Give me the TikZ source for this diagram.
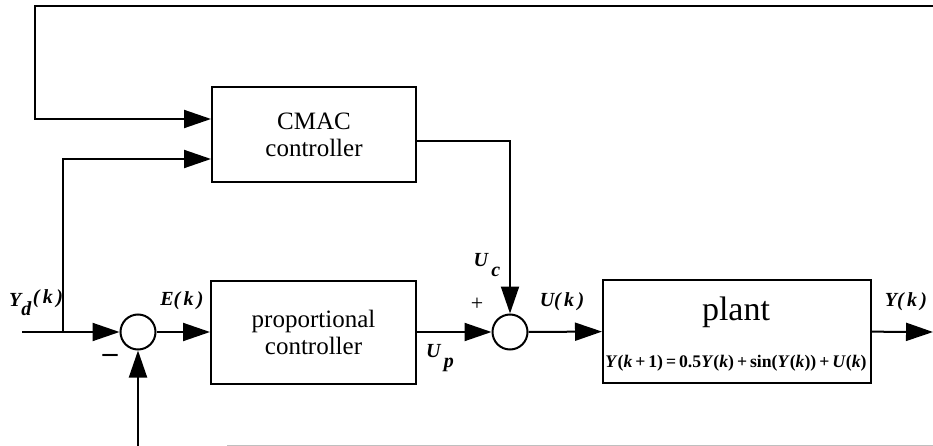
\documentclass[tikz,border=0pt]{standalone}
\usepackage{fontspec}
\setmainfont{Liberation Serif}
\usetikzlibrary{arrows.meta}

\newcommand{\sigtxt}[1]{{\fontsize{20}{20}\selectfont\bfseries\itshape #1}}

\begin{document}
\begin{tikzpicture}[x=1pt, y=-1pt, line width=2pt,
  blk/.style={draw, inner sep=0pt, align=center, font=\fontsize{25}{27}\selectfont},
  sumpt/.style={draw, circle, minimum size=35pt, inner sep=0pt},
  arr/.style={-{Stealth[length=27pt, width=18pt, inset=0pt]}}]
\useasboundingbox (0,0) rectangle (933,446);

% blocks
\path (314,134.5) node[blk, minimum width=204pt, minimum height=95pt] (cmac) {CMAC\\controller};
\path (313.5,332) node[blk, minimum width=205pt, minimum height=103pt] (prop) {proportional\\controller};
\path (737,331) node[blk, minimum width=268pt, minimum height=103pt] (plant) {};
\path (736,312) node[font=\fontsize{34}{34}\selectfont] (plantname) {plant};
\path (736,363) node[inner sep=0pt] (planteq) {\resizebox{261pt}{!}{\bfseries
  \textit{Y}(\textit{k}\,+\,1)\,=\,0.5\textit{Y}(\textit{k})\,+\,sin(\textit{Y}(\textit{k}))\,+\,\textit{U}(\textit{k})}};

% summing points
\path (138,332) node[sumpt] (sum1) {};
\path (510,332) node[sumpt] (sum2) {};

% free ends
\coordinate (yd) at (22,332);
\coordinate (br) at (63,332);
\coordinate (fbr) at (933,6);
\coordinate (fbl) at (35,119);
\coordinate (fbb) at (138,446);
\coordinate (yout) at (933,332);
\coordinate (bl) at (227,445);
\coordinate (brr) at (933,445);

% connectors
\draw[arr] (fbr) -| (fbl) -- (fbl -| cmac.west);
\draw (yd) -- (br);
\draw[arr] (br) |- (cmac.west |- 0,159);
\draw[arr] (br) -- (sum1);
\draw[arr] (sum1) -- (prop);
\draw[arr] (fbb) -- (sum1);
\draw[arr] (prop) -- (sum2);
\draw[arr] (cmac.east |- 0,141) -| (sum2.north);
\draw[arr] (sum2) -- (plant);
\draw[arr] (plant) -- (yout);
\draw[black!25, line width=1pt] (bl) -- (brr);

% labels
\path (36,303) node (ydlab) {\sigtxt{Y}\raisebox{-9pt}{\sigtxt{d}}\,\raisebox{3pt}{\sigtxt{(\,k\,)}}};
\path (110,358) node (minus) {\fontsize{30}{30}\selectfont\bfseries --};
\path (182,301) node (elab) {\sigtxt{E(\,k\,)}};
\path (440,358) node (uplab) {\sigtxt{U}\raisebox{-10pt}{\sigtxt{\,p}}};
\path (487,265) node (uclab) {\sigtxt{U}\raisebox{-10pt}{\sigtxt{\,c}}};
\path (477,304) node (plus) {\fontsize{22}{22}\selectfont +};
\path (562,302) node (ulab) {\sigtxt{U(\,k\,)}};
\path (906,302) node (ylab) {\sigtxt{Y(\,k\,)}};
\end{tikzpicture}
\end{document}
